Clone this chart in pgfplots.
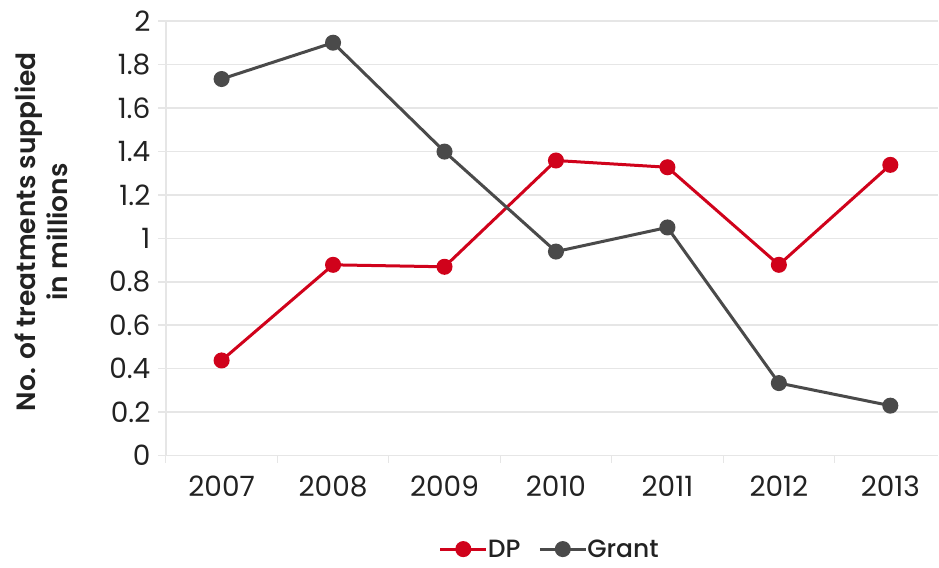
\documentclass[border=0pt]{standalone}
\usepackage{fontspec}
\setmainfont{Poppins}
\newfontfamily\medfont{Poppins}[UprightFont=* Medium]
\newfontfamily\semifont{Poppins}[UprightFont=* SemiBold]
\usepackage{pgfplots}
\pgfplotsset{compat=1.18}
\definecolor{dpred}{HTML}{D0021B}
\definecolor{grantgray}{HTML}{4A4A4A}
\definecolor{gridgray}{HTML}{E6E6E6}
\definecolor{txt}{HTML}{222222}
\begin{document}
\begin{tikzpicture}
\begin{axis}[
  scale only axis,
  width=773pt, height=435pt,
  xmin=-0.5, xmax=6.43,
  ymin=0, ymax=2,
  clip=false,
  axis x line*=bottom,
  axis y line*=left,
  axis line style={gridgray, line width=1.5pt},
  xtick={0,1,2,3,4,5,6},
  xticklabels={2007,2008,2009,2010,2011,2012,2013},
  minor xtick={-0.5,0.5,1.5,2.5,3.5,4.5,5.5},
  major x tick style={draw=none},
  minor x tick style={gridgray, line width=1pt},
  minor tick length=7pt,
  ytick={0,0.2,...,2.01},
  major y tick style={gridgray, line width=1.5pt},
  major tick length=8pt,
  tick align=outside,
  ymajorgrids,
  grid style={gridgray, line width=1.5pt},
  /pgf/number format/assume math mode=true,
  yticklabel={\pgfmathprintnumber[fixed,precision=1]{\tick}},
  ticklabel style={font=\fontsize{28}{30}\selectfont, text=txt},
  yticklabel style={xshift=-4pt},
  xticklabel style={yshift=-9pt},
  ylabel={No. of treatments supplied\\in millions},
  ylabel style={font=\semifont\fontsize{26.5}{32}\selectfont, text=txt, align=center, at={(axis description cs:-0.1617,0.515)}, anchor=center},
  legend columns=2,
  legend style={draw=none, at={(axis description cs:0.497,-0.215)}, anchor=center, inner sep=0pt, font=\medfont\fontsize{25}{28}\selectfont, text=txt, /tikz/every even column/.append style={column sep=16pt}, /tikz/every odd column/.append style={column sep=-2pt}},
  legend image code/.code={\draw[#1, line width=3pt] (0pt,0pt) -- (46pt,0pt); \fill[#1] (23pt,0pt) circle (6.5pt);},
]
\addplot[dpred, line width=3pt, mark=*, mark size=6.5pt, mark options={fill=dpred, draw=dpred}] coordinates {
(0,0.438) (1,0.878) (2,0.869) (3,1.358) (4,1.327) (5,0.878) (6,1.338)};
\addlegendentry{DP}
\addplot[grantgray, line width=3pt, mark=*, mark size=6.5pt, mark options={fill=grantgray, draw=grantgray}] coordinates {
(0,1.733) (1,1.900) (2,1.399) (3,0.939) (4,1.050) (5,0.334) (6,0.230)};
\addlegendentry{Grant}
\end{axis}
\path[use as bounding box] (-166pt,-112pt) rectangle (773pt,456pt);
\end{tikzpicture}
\end{document}
